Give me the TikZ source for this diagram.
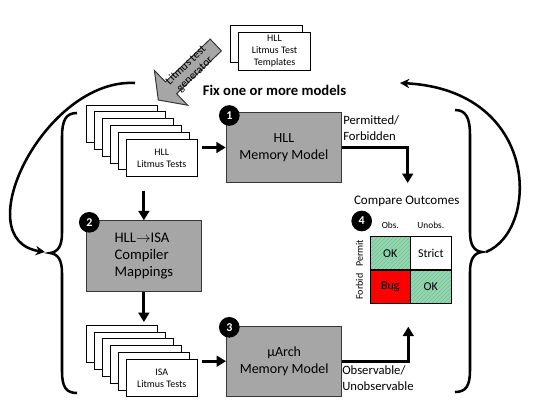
\documentclass[tikz,border=0pt]{standalone}
\usepackage{fontspec}
\setmainfont{Carlito}
\usepackage{tikz}
\usetikzlibrary{calc, positioning, arrows.meta, patterns}
\definecolor{Boxgray}{RGB}{166,166,166}
\definecolor{Boxline}{RGB}{55,55,55}
\definecolor{Okgreen}{RGB}{150,214,176}
\definecolor{Okhatch}{RGB}{112,192,148}
\definecolor{Bugred}{RGB}{255,0,0}

\begin{document}
\begin{tikzpicture}[x=0.75pt, y=-0.75pt,
  page/.style  ={rectangle, draw=black, fill=white, line width=0.75pt,
                 minimum width=53.6pt, minimum height=28.2pt, inner sep=1pt,
                 align=center, font=\fontsize{7.5}{9}\selectfont},
  mbox/.style  ={rectangle, draw=Boxline, fill=Boxgray, line width=0.75pt,
                 minimum width=86.5pt, minimum height=52.8pt,
                 align=center, font=\fontsize{10.5}{12.5}\selectfont},
  badge/.style ={circle, fill=black, text=white, inner sep=0pt,
                 minimum size=15.5pt, font=\fontsize{9}{9}\selectfont\bfseries},
  cell/.style  ={rectangle, draw=black, line width=0.75pt,
                 minimum width=30.4pt, minimum height=25pt,
                 font=\fontsize{9}{9}\selectfont},
  okcell/.style={cell, preaction={fill=Okgreen},
                 pattern=north east lines, pattern color=Okhatch},
  lbl/.style   ={align=left, inner sep=0pt, font=\fontsize{9.5}{11.5}\selectfont},
  hdr/.style   ={inner sep=0pt, font=\fontsize{7}{8}\selectfont},
  genarr/.style={fill=Boxgray, draw=Boxline, line width=0.75pt},
  conn/.style  ={-{Triangle[length=7pt, width=8pt]}, line width=2.25pt},
  backarr/.style={-{Stealth[length=7pt, width=7pt]}, line width=1.9pt},
  brc/.style   ={line width=1.9pt},
]
\useasboundingbox (0,0) rectangle (540,403);

%% ═══════════════ Templates + generator ═══════════════
\node[page] (tplback)  at (266.4,44)   {};
\node[page] (tplfront) at (274.5,51.5) {HLL\\Litmus Test\\Templates};

\draw[genarr] (221.4,50.9) -- (176.6,93.7) -- (187.6,105.2) -- (158.3,100)
  -- (154.4,70.4) -- (165.4,81.9) -- (210.2,39.1) -- cycle;
\node[align=center, inner sep=0pt, rotate=43.7,
      font=\fontsize{8.5}{9.5}\selectfont] (gentext) at (190.5,70)
      {Litmus test\\generator};

\node[font=\fontsize{11}{13}\selectfont\bfseries] (fixtxt) at (274.5,90)
      {Fix one or more models};

%% ═══════════════ HLL litmus tests ═══════════════
\node[page] (hllp0)    at (121.75,124)  {};
\node[page] (hllp1)    at (129.75,130.8) {};
\node[page] (hllp2)    at (137.75,137.6) {};
\node[page] (hllp3)    at (145.75,144.4) {};
\node[page] (hllp4)    at (153.75,151.2) {};
\node[page] (hlltests) at (161.75,158)  {HLL\\Litmus Tests};

%% ═══════════════ models ═══════════════
\node[mbox] (hllmm)    at (283.9,147.5) {HLL\\Memory Model};
\node[mbox, align=left, font=\fontsize{11}{12.8}\selectfont]
            (compiler) at (143.9,256)   {HLL$\rightarrow$ISA\\Compiler\\Mappings};
\node[mbox] (uarch)    at (284.2,361.2) {µArch\\Memory Model};

\node[badge] (b1) at (229.3,115.5) {1};
\node[badge] (b2) at (89.3,222.3)  {2};
\node[badge] (b3) at (229.3,327.3) {3};

%% ═══════════════ ISA litmus tests ═══════════════
\node[page] (isap0)    at (121.75,344)  {};
\node[page] (isap1)    at (129.75,350.8) {};
\node[page] (isap2)    at (137.75,357.6) {};
\node[page] (isap3)    at (145.75,364.4) {};
\node[page] (isap4)    at (153.75,371.2) {};
\node[page] (isatests) at (161.75,378)  {ISA\\Litmus Tests};

%% ═══════════════ compare outcomes ═══════════════
\node[font=\fontsize{9.8}{11}\selectfont] (compare) at (406.7,201.7) {Compare Outcomes};
\node[badge] (b4) at (361.7,221) {4};
\node[hdr] (hobs)   at (390.3,225) {Obs.};
\node[hdr] (hunobs) at (430.8,225) {Unobs.};
\node[okcell]               (cpo) at (390.3,253.3) {OK};
\node[cell, fill=white]     (cpu) at (430.8,253.3) {Strict};
\node[cell, fill=Bugred]    (cfo) at (390.3,286.7) {Bug};
\node[okcell]               (cfu) at (430.8,286.7) {OK};
\node[hdr, rotate=90, font=\fontsize{7.5}{8}\selectfont] (rpermit) at (359.5,253.3) {Permit};
\node[hdr, rotate=90, font=\fontsize{7.5}{8}\selectfont] (rforbid) at (359.5,286.7) {Forbid};

\coordinate (cmpin)  at (407.7,183);
\coordinate (cmpout) at (408.3,326.7);

%% ═══════════════ connectors ═══════════════
\draw[conn, shorten <=3pt] (hllmm.west -| hlltests.east) -- (hllmm.west);
\draw[conn, shorten <=10pt] (hlltests.south -| compiler.north) -- (compiler.north);
\draw[conn, shorten >=2pt] (compiler.south) -- (compiler.south |- isap0.north);
\draw[conn, shorten <=3pt] (uarch.west -| isatests.east) -- (uarch.west);
\draw[conn] (hllmm.east) -| (cmpin);
\draw[conn] (uarch.east) -| (cmpout);

\node[lbl, anchor=west] (pflbl) at (343,128.3) {Permitted/\\Forbidden};
\node[lbl, anchor=west] (oulbl) at (342,378)   {Observable/\\Unobservable};

%% ═══════════════ braces + loops ═══════════════
\coordinate (lcusp) at (50,253);
\coordinate (rcusp) at (482,252);
\draw[brc] (77,113) .. controls (66,113) and (62,120) .. (62,137) -- (62,233)
  .. controls (62,246) and (58,252) .. (lcusp)
  .. controls (58,254) and (62,260) .. (62,273) -- (62,371)
  .. controls (62,387) and (66,393) .. (77,393);
\draw[brc] (455,110) .. controls (466,110) and (470,118) .. (470,135) -- (470,232)
  .. controls (470,245) and (474,251) .. (rcusp)
  .. controls (474,253) and (470,259) .. (470,272) -- (470,370)
  .. controls (470,386) and (466,392) .. (455,392);

\coordinate (ltop) at (135,83);
\coordinate (rtop) at (400,83);
\draw[backarr] (ltop) .. controls (45,78) and (-35,240) .. ($(lcusp)+(-5,-1)$);
\draw[backarr] ($(rcusp)+(4,0)$) .. controls (540,230) and (540,90) .. (rtop);

\end{tikzpicture}
\end{document}
